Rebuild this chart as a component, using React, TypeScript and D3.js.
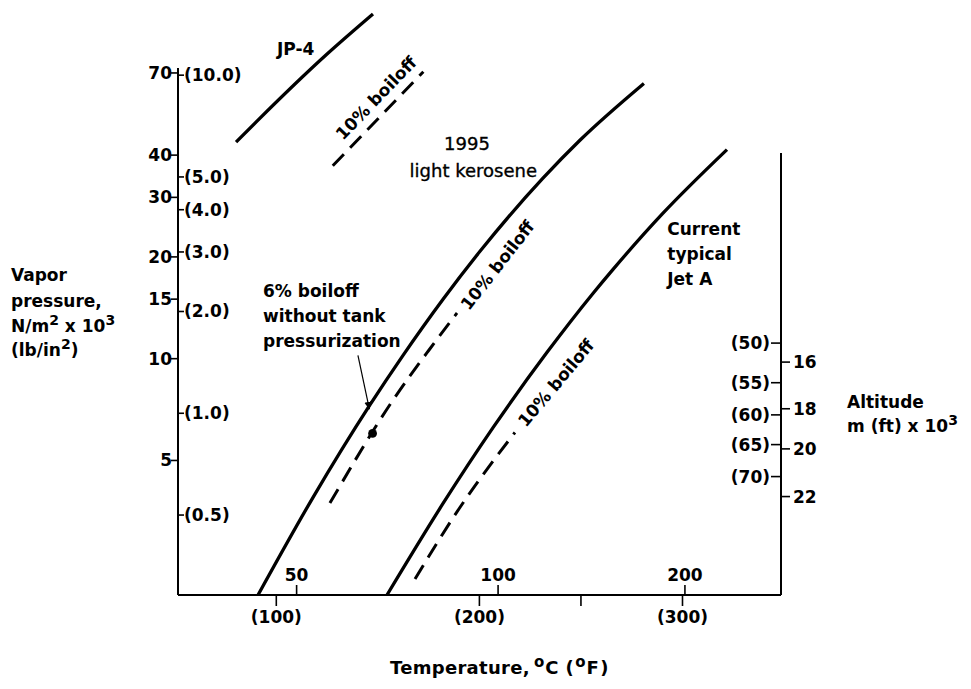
import React from "react";
import * as d3 from "d3";

const W = 971;
const H = 689;

// ---- data: temperature in °F, vapor pressure in N/m² x 10³ ----
const jp4Temp = [80.2, 90.5, 125.0, 147.6];
const jp4Press = [43.71, 50.43, 79.64, 104.6];
const jp4BoilTemp = [127.8, 172.4];
const jp4BoilPress = [37.19, 70.59];

const keroTemp = [91.0, 118.1, 146.1, 162.4, 182.1, 200.3, 231.3, 249.5, 281.0];
const keroPress = [2.0, 3.89, 7.3, 10.23, 14.99, 20.78, 34.19, 44.26, 65.16];
const keroBoilTemp = [126.4, 157.5, 175.2, 189.0];
const keroBoilPress = [3.74, 7.55, 10.61, 13.65];

const jetATemp = [154.5, 182.1, 206.7, 233.3, 255.9, 265.8, 290.4, 321.9];
const jetAPress = [2.0, 3.73, 6.25, 10.44, 15.59, 18.37, 26.94, 41.54];
const jetABoilTemp = [168.3, 190.4, 217.5];
const jetABoilPress = [2.23, 3.63, 6.05];

const pointTemp = [147.4];
const pointPress = [6.01];

// ---- axes ----
const pressTicks = [5, 10, 15, 20, 30, 40, 70];
const psiTicks = [0.5, 1.0, 2.0, 3.0, 4.0, 5.0, 10.0];
const PSI_TO_KPA = 6.895;

const fTicks = [100, 200, 250, 300];
const fTickLabels = ["(100)", "(200)", "", "(300)"];
const cTickPos = [110.0, 209.2, 301.2];
const cTickLabels = ["50", "100", "200"];

const altKmLabels = ["16", "18", "20", "22"];
const altKmPress = [9.77, 7.11, 5.41, 3.91];
const altFtLabels = ["(50)", "(55)", "(60)", "(65)", "(70)"];
const altFtPress = [11.12, 8.49, 6.82, 5.57, 4.48];

const xDomain = [51.6, 348.5];
const yDomain = [2.0, 72.4];

const FONT = "'DejaVu Sans', 'Liberation Sans', Arial, sans-serif";

export default function App() {
  const left = 178, right = 781, top = 68, bottom = 595;
  const x = d3.scaleLinear().domain(xDomain).range([left, right]);
  const y = d3.scaleLog().domain(yDomain).range([bottom, top]);

  const line = d3
    .line<[number, number]>()
    .x((d) => x(d[0]))
    .y((d) => y(d[1]))
    .curve(d3.curveMonotoneX);
  const pts = (t: number[], p: number[]) => t.map((v, i) => [v, p[i]] as [number, number]);

  const solid = { fill: "none", stroke: "#000", strokeWidth: 3.3, strokeLinecap: "butt" as const };
  const dashed = { ...solid, strokeWidth: 3, strokeDasharray: "16 9" };

  const txt = { fontFamily: FONT, fontWeight: 700, fontSize: 17, fill: "#000" };
  const rightTop = 153;

  const label10 = (tx: number, py: number, ang: number) => (
    <text
      {...txt}
      transform={`translate(${x(tx)},${y(py)}) rotate(${ang})`}
      textAnchor="middle"
      dominantBaseline="central"
    >
      10% boiloff
    </text>
  );

  return (
    <svg width={W} height={H} style={{ position: "absolute", left: 0, top: 0, background: "#fff" }}>
      <rect width={W} height={H} fill="#fff" />
      <defs>
        <marker id="arr" viewBox="0 0 8 8" refX="7" refY="4" markerWidth="8" markerHeight="8" orient="auto" markerUnits="userSpaceOnUse">
          <path d="M0,0.5 L8,4 L0,7.5 Z" fill="#000" />
        </marker>
      </defs>

      {/* axes lines */}
      <line x1={left} x2={left} y1={top} y2={bottom} stroke="#000" strokeWidth={2} />
      <line x1={left} x2={right} y1={bottom} y2={bottom} stroke="#000" strokeWidth={2} />
      <line x1={right} x2={right} y1={rightTop} y2={bottom} stroke="#000" strokeWidth={2} />

      {/* left ticks N/m² */}
      {pressTicks.map((v) => (
        <g key={"p" + v}>
          <line x1={left - 7} x2={left} y1={y(v)} y2={y(v)} stroke="#000" strokeWidth={1.6} />
          <text {...txt} x={left - 6} y={y(v)} textAnchor="end" dominantBaseline="central">
            {v}
          </text>
        </g>
      ))}
      {/* left ticks psi */}
      {psiTicks.map((v) => (
        <g key={"s" + v}>
          <line x1={left} x2={left + 6} y1={y(v * PSI_TO_KPA)} y2={y(v * PSI_TO_KPA)} stroke="#000" strokeWidth={1.6} />
          <text {...txt} x={left + 6} y={y(v * PSI_TO_KPA)} dominantBaseline="central">
            ({v.toFixed(1)})
          </text>
        </g>
      ))}

      {/* bottom ticks °C (above) */}
      {cTickPos.map((v, i) => (
        <g key={"c" + v}>
          <line x1={x(v)} x2={x(v)} y1={bottom - 10} y2={bottom} stroke="#000" strokeWidth={1.6} />
          <text {...txt} x={x(v)} y={581} textAnchor="middle">
            {cTickLabels[i]}
          </text>
        </g>
      ))}
      {/* bottom ticks °F (below) */}
      {fTicks.map((v, i) => (
        <g key={"f" + v}>
          <line x1={x(v)} x2={x(v)} y1={bottom} y2={bottom + 11} stroke="#000" strokeWidth={1.6} />
          <text {...txt} x={x(v)} y={623} textAnchor="middle">
            {fTickLabels[i]}
          </text>
        </g>
      ))}

      {/* right ticks altitude */}
      {altFtPress.map((v, i) => (
        <g key={"ft" + i}>
          <line x1={right - 10} x2={right} y1={y(v)} y2={y(v)} stroke="#000" strokeWidth={1.6} />
          <text {...txt} x={right - 11} y={y(v)} textAnchor="end" dominantBaseline="central">
            {altFtLabels[i]}
          </text>
        </g>
      ))}
      {altKmPress.map((v, i) => (
        <g key={"km" + i}>
          <line x1={right} x2={right + 9} y1={y(v)} y2={y(v)} stroke="#000" strokeWidth={1.6} />
          <text {...txt} x={right + 12} y={y(v)} dominantBaseline="central">
            {altKmLabels[i]}
          </text>
        </g>
      ))}

      {/* curves */}
      <path d={line(pts(jp4Temp, jp4Press)) || ""} {...solid} />
      <path d={line(pts(jp4BoilTemp, jp4BoilPress)) || ""} {...dashed} />
      <path d={line(pts(keroTemp, keroPress)) || ""} {...solid} />
      <path d={line(pts(keroBoilTemp, keroBoilPress)) || ""} {...dashed} />
      <path d={line(pts(jetATemp, jetAPress)) || ""} {...solid} />
      <path d={line(pts(jetABoilTemp, jetABoilPress)) || ""} {...dashed} />

      {/* point + arrow */}
      {pointTemp.map((t, i) => (
        <circle key={"pt" + i} cx={x(t)} cy={y(pointPress[i])} r={4.4} fill="#000" />
      ))}
      <line x1={x(140.2)} y1={y(10.22)} x2={x(145.8)} y2={y(7.11)} stroke="#000" strokeWidth={1.2} markerEnd="url(#arr)" />

      {/* curve labels */}
      <text {...txt} x={x(109.5)} y={y(79.1)} textAnchor="middle">JP-4</text>
      {label10(149.1, 59.0, -46)}
      {label10(208.9, 18.89, -52)}
      {label10(237.7, 8.47, -50)}

      <text {...txt} fontWeight={400} fontSize={18} stroke="#000" strokeWidth={0.35} x={x(193.9)} y={y(41.39)} textAnchor="middle">1995</text>
      <text {...txt} fontWeight={400} fontSize={18} stroke="#000" strokeWidth={0.35} x={x(197.0)} y={y(34.5)} textAnchor="middle">light kerosene</text>

      <text {...txt} x={x(93.45)} y={y(15.19)}>
        <tspan x={x(93.45)}>6% boiloff</tspan>
        <tspan x={x(93.45)} dy={24.7}>without tank</tspan>
        <tspan x={x(93.45)} dy={24.7}>pressurization</tspan>
      </text>

      <text {...txt} x={x(292.5)} y={y(23.17)}>
        <tspan x={x(292.5)}>Current</tspan>
        <tspan x={x(292.5)} dy={25}>typical</tspan>
        <tspan x={x(292.5)} dy={25}>Jet A</tspan>
      </text>

      {/* axis titles */}
      <text {...txt} x={11} y={281}>
        <tspan x={11}>Vapor</tspan>
        <tspan x={11} dy={25.5}>pressure,</tspan>
        <tspan x={11} dy={25.5}>N/m</tspan>
        <tspan dy={-7} fontSize={14}>2</tspan>
        <tspan dy={7}> x 10</tspan>
        <tspan dy={-7} fontSize={14}>3</tspan>
        <tspan x={11} dy={31}>(lb/in</tspan>
        <tspan dy={-7} fontSize={14}>2</tspan>
        <tspan dy={7}>)</tspan>
      </text>

      <text {...txt} x={847} y={408}>
        <tspan x={847}>Altitude</tspan>
        <tspan x={847} dy={24}>m (ft) x 10</tspan>
        <tspan dy={-7} fontSize={14}>3</tspan>
      </text>

      <text {...txt} fontSize={18} y={674}>
        <tspan x={390} letterSpacing={0.3}>Temperature,</tspan>
        <tspan x={534} dy={-7} fontSize={15}>o</tspan>
        <tspan dx={1} dy={7} letterSpacing={1}>C</tspan>
        <tspan dx={6} letterSpacing={1.5}>(</tspan>
        <tspan dy={-7} fontSize={15}>o</tspan>
        <tspan dx={1} dy={7} letterSpacing={1.5}>F)</tspan>
      </text>
    </svg>
  );
}
